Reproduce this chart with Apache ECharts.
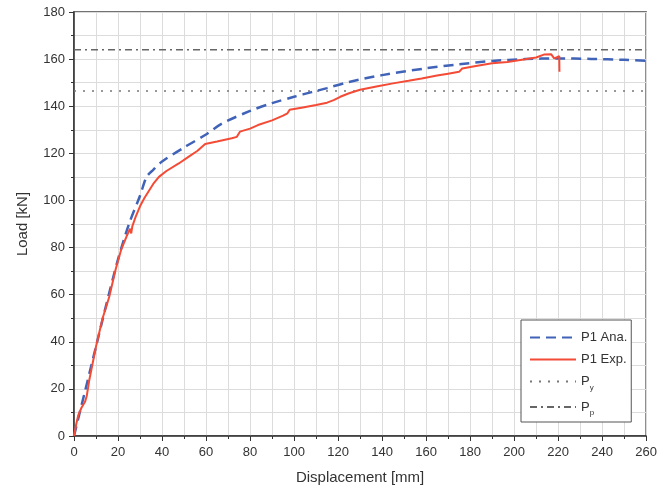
<!DOCTYPE html>
<html><head><meta charset="utf-8">
<script src="https://cdn.jsdelivr.net/npm/echarts@6/dist/echarts.min.js"></script>
<style>html,body{margin:0;padding:0;background:#fff}#c{width:660px;height:494px}</style>
</head><body><div id="c"></div>
<script>
const seriesNames = ['P1 Ana.', 'P1 Exp.', 'Py', 'Pp'];
const anaX = [0,5,10,15,20,25,30,33,36,40,50,60,67,80,90,100,108,115,125,140,160,175,190,205,220,235,250,260];
const anaY = [0,19,38,57,75,90,102,110,113,116.5,122.5,128,132.5,138,141.3,144,146,147.7,150.3,153.2,156.1,157.8,159.2,160,160.3,160.1,159.7,159.3];
const expX = [0,1,2,3.4,5,5.8,7,10,13,16,19,21.4,24,25.5,26,26.5,28,30,32,34,36,38.6,42,47.6,52,56,59.6,65,71.7,74,75.4,80,83.6,90,95,97,98,104,110,115,118,121,125,130,138,145,152,158,165,170,175,176.4,182,190,197,205,210,213.8,216.8,218.2,219.5,220.5,220.6];
const expY = [0,5,9,12,14.5,17,24,38,50,59,71,79,85,88,86,89,93,97.5,101,104,107,110,112.5,115.7,118.5,121,124,125,126.4,127,129.2,130.5,132,134,136,137,138.5,139.5,140.5,141.5,142.6,144,145.5,147,148.5,149.7,150.8,151.8,153,153.8,154.6,156,157,158.2,158.8,159.9,160.7,162,162.1,160.3,160.8,161.3,154.6];
const Py = 146.5;
const Pp = 164;
const xRange = [0, 260];
const yRange = [0, 180];

const zip = (a, b) => a.map((v, i) => [v, b[i]]);
const chart = echarts.init(document.getElementById('c'));
const FONT = 'Liberation Sans, Arial, sans-serif';
const axisCommon = {
  axisLine: {show: true, lineStyle: {color: '#333', width: 1.5}},
  axisTick: {show: true, inside: false, length: 5, lineStyle: {color: '#333'}},
  minorTick: {show: true, splitNumber: 2, length: 3, lineStyle: {color: '#333'}},
  splitLine: {show: true, lineStyle: {color: '#dcdcdc', width: 1}},
  minorSplitLine: {show: true, lineStyle: {color: '#dcdcdc', width: 1}},
  axisLabel: {color: '#333', fontSize: 13, fontFamily: FONT},
  nameTextStyle: {color: '#333', fontSize: 15, fontFamily: FONT}
};
chart.setOption({
  animation: false,
  backgroundColor: '#fff',
  grid: {left: 74, right: 9, top: 12, bottom: 58, show: true, borderColor: '#444', borderWidth: 1.5, backgroundColor: 'transparent'},
  xAxis: Object.assign({type: 'value', min: xRange[0], max: xRange[1], interval: 20,
    name: 'Displacement [mm]', nameLocation: 'middle', nameGap: 34}, axisCommon,
    {axisLabel: Object.assign({}, axisCommon.axisLabel, {margin: 10})}),
  yAxis: Object.assign({type: 'value', min: yRange[0], max: yRange[1], interval: 20,
    name: 'Load [kN]', nameLocation: 'middle', nameGap: 44}, axisCommon,
    {axisLabel: Object.assign({}, axisCommon.axisLabel, {margin: 9})}),
  legend: {
    orient: 'vertical', left: 521, top: 320,
    backgroundColor: '#fff', borderColor: '#555', borderWidth: 1,
    padding: [11, 4, 5, 8], itemGap: 9, itemWidth: 46, itemHeight: 14,
    itemStyle: {opacity: 0},
    data: seriesNames,
    textStyle: {color: '#333', fontSize: 13, fontFamily: FONT,
      rich: {m: {fontSize: 13, color: '#333', fontFamily: FONT}, s: {fontSize: 8, color: '#333', fontFamily: FONT, padding: [12, 0, 0, 0]}}},
    formatter: n => n === 'Py' ? '{m|P}{s|y}' : n === 'Pp' ? '{m|P}{s|p}' : n
  },
  series: [
    {name: seriesNames[0], type: 'line', data: zip(anaX, anaY), smooth: 0.3, showSymbol: false, symbol: 'none',
      lineStyle: {color: '#4063b8', width: 2.5, type: [10, 6]}, itemStyle: {color: '#4063b8'}, z: 3},
    {name: seriesNames[1], type: 'line', data: zip(expX, expY), showSymbol: false, symbol: 'none',
      lineStyle: {color: '#f44b36', width: 2}, itemStyle: {color: '#f44b36'}, z: 4},
    {name: seriesNames[2], type: 'line', data: [[xRange[0], Py], [xRange[1], Py]], showSymbol: false, symbol: 'none',
      lineStyle: {color: '#777', width: 1.5, type: [2, 7]}, itemStyle: {color: '#777'}, z: 2},
    {name: seriesNames[3], type: 'line', data: [[xRange[0], Pp], [xRange[1], Pp]], showSymbol: false, symbol: 'none',
      lineStyle: {color: '#666', width: 1.5, type: [7, 4, 2, 4]}, itemStyle: {color: '#666'}, z: 2}
  ]
});
</script></body></html>
